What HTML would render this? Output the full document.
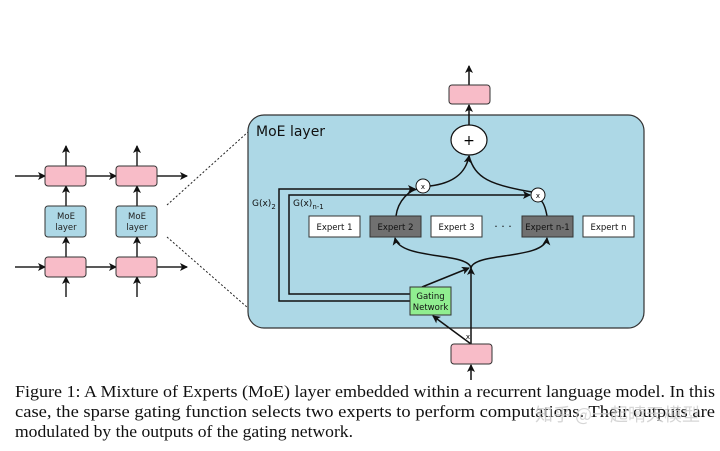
<!DOCTYPE html>
<html><head><meta charset="utf-8"><style>
html,body{margin:0;padding:0;background:#fff;width:720px;height:451px;overflow:hidden}
svg{display:block}
.s{font-family:"DejaVu Sans","Liberation Sans",sans-serif}
.c{font-family:"Liberation Serif",serif;font-size:17px;fill:#111}
</style></head><body>
<svg width="720" height="451" viewBox="0 0 720 451" xmlns="http://www.w3.org/2000/svg">
<defs><marker id="a" markerWidth="8" markerHeight="8" refX="7" refY="4" orient="auto" markerUnits="userSpaceOnUse"><path d="M0,0 L8,4 L0,8 L2,4 z" fill="#111"/></marker></defs>
<g stroke="#222" stroke-width="1.5" fill="none">
<line x1="15" y1="176" x2="45" y2="176" marker-end="url(#a)"/>
<line x1="86" y1="176" x2="116" y2="176" marker-end="url(#a)"/>
<line x1="157" y1="176" x2="187" y2="176" marker-end="url(#a)"/>
<line x1="15" y1="267" x2="45" y2="267" marker-end="url(#a)"/>
<line x1="86" y1="267" x2="116" y2="267" marker-end="url(#a)"/>
<line x1="157" y1="267" x2="187" y2="267" marker-end="url(#a)"/>
<line x1="66" y1="297" x2="66" y2="277" marker-end="url(#a)"/>
<line x1="137" y1="297" x2="137" y2="277" marker-end="url(#a)"/>
<line x1="66" y1="257" x2="66" y2="237" marker-end="url(#a)"/>
<line x1="137" y1="257" x2="137" y2="237" marker-end="url(#a)"/>
<line x1="66" y1="206" x2="66" y2="186" marker-end="url(#a)"/>
<line x1="137" y1="206" x2="137" y2="186" marker-end="url(#a)"/>
<line x1="66" y1="166" x2="66" y2="146" marker-end="url(#a)"/>
<line x1="137" y1="166" x2="137" y2="146" marker-end="url(#a)"/>
</g>
<g stroke="#333" stroke-width="1">
<rect x="45" y="166" width="41" height="20" rx="3" fill="#f8bcc8"/>
<rect x="116" y="166" width="41" height="20" rx="3" fill="#f8bcc8"/>
<rect x="45" y="257" width="41" height="20" rx="3" fill="#f8bcc8"/>
<rect x="116" y="257" width="41" height="20" rx="3" fill="#f8bcc8"/>
<rect x="45" y="206" width="41" height="31" rx="3" fill="#add8e6"/>
<rect x="116" y="206" width="41" height="31" rx="3" fill="#add8e6"/>
</g>
<g class="s" font-size="8.5" fill="#222" text-anchor="middle">
<text x="66" y="219">MoE</text><text x="66" y="230">layer</text>
<text x="137" y="219">MoE</text><text x="137" y="230">layer</text>
</g>
<line x1="167" y1="205" x2="248" y2="132" stroke="#222" stroke-dasharray="2,2"/>
<line x1="167" y1="237" x2="248" y2="308" stroke="#222" stroke-dasharray="2,2"/>
<rect x="248" y="115" width="396" height="213" rx="16" fill="#add8e6" stroke="#333" stroke-width="1.2"/>
<text x="256" y="136" class="s" font-size="14" fill="#111">MoE layer</text>
<g stroke="#111" stroke-width="1.5" fill="none">
<line x1="469" y1="85" x2="469" y2="66" marker-end="url(#a)"/>
<line x1="469" y1="125" x2="469" y2="105" marker-end="url(#a)"/>
<polyline points="410,301 279,301 279,189 415,189" marker-end="url(#a)"/>
<polyline points="410,294 289,294 289,195 530,195" marker-end="url(#a)"/>
<path d="M396,216 C398,200 410,190 418,189"/>
<path d="M430,186 C455,183 466,172 469,156" marker-end="url(#a)"/>
<path d="M547,216 C545,205 542,201 540,200"/>
<path d="M532,192 C490,185 475,178 469,156"/>
<line x1="471" y1="344" x2="471" y2="268" marker-end="url(#a)"/>
<line x1="422" y1="287" x2="469" y2="268" marker-end="url(#a)"/>
<line x1="471" y1="344" x2="433" y2="316" marker-end="url(#a)"/>
<path d="M471,268 C468,252 400,260 395,238" marker-end="url(#a)"/>
<path d="M471,268 C474,252 545,260 547,238" marker-end="url(#a)"/>
<line x1="471" y1="380" x2="471" y2="365" marker-end="url(#a)"/>
</g>
<rect x="449" y="85" width="41" height="19" rx="3" fill="#f8bcc8" stroke="#333"/>
<rect x="451" y="344" width="41" height="20" rx="3" fill="#f8bcc8" stroke="#333"/>
<ellipse cx="469" cy="140" rx="18" ry="15" fill="#fff" stroke="#111" stroke-width="1.2"/>
<text x="469" y="145" class="s" font-size="14" text-anchor="middle">+</text>
<circle cx="423" cy="186" r="7" fill="#fff" stroke="#111"/>
<circle cx="538" cy="195" r="7" fill="#fff" stroke="#111"/>
<g class="s" font-size="7" text-anchor="middle"><text x="423" y="189">x</text><text x="538" y="198">x</text><text x="468" y="339">x</text></g>
<g class="s" font-size="9" fill="#111">
<text x="252" y="206">G(x)<tspan font-size="7" dy="3">2</tspan></text>
<text x="293" y="206">G(x)<tspan font-size="7" dy="3">n-1</tspan></text>
</g>
<g stroke="#333" stroke-width="1">
<rect x="309" y="216" width="51" height="21" fill="#fff"/>
<rect x="370" y="216" width="51" height="21" fill="#707070"/>
<rect x="431" y="216" width="51" height="21" fill="#fff"/>
<rect x="522" y="216" width="51" height="21" fill="#707070"/>
<rect x="583" y="216" width="51" height="21" fill="#fff"/>
<rect x="410" y="287" width="41" height="28" fill="#90ee90"/>
</g>
<g class="s" font-size="8.5" text-anchor="middle" fill="#111">
<text x="334.5" y="230">Expert 1</text><text x="395.5" y="230">Expert 2</text>
<text x="456.5" y="230">Expert 3</text><text x="547.5" y="230">Expert n-1</text>
<text x="608.5" y="230">Expert n</text>
<text x="430.5" y="299">Gating</text><text x="430.5" y="310">Network</text>
<text x="503" y="230" font-size="11">· · ·</text>
</g>
<text class="c" x="15" y="397" textLength="700" lengthAdjust="spacingAndGlyphs">Figure 1: A Mixture of Experts (MoE) layer embedded within a recurrent language model. In this</text>
<text class="c" x="15" y="417" textLength="700" lengthAdjust="spacingAndGlyphs">case, the sparse gating function selects two experts to perform computations. Their outputs are</text>
<text class="c" x="15" y="437" textLength="338" lengthAdjust="spacingAndGlyphs">modulated by the outputs of the gating network.</text>
<text x="535" y="421" font-family="'Noto Sans CJK SC',sans-serif" font-size="18" fill="#ccc" opacity="0.8">知乎 @一起晴天模型</text>
</svg>
</body></html>
